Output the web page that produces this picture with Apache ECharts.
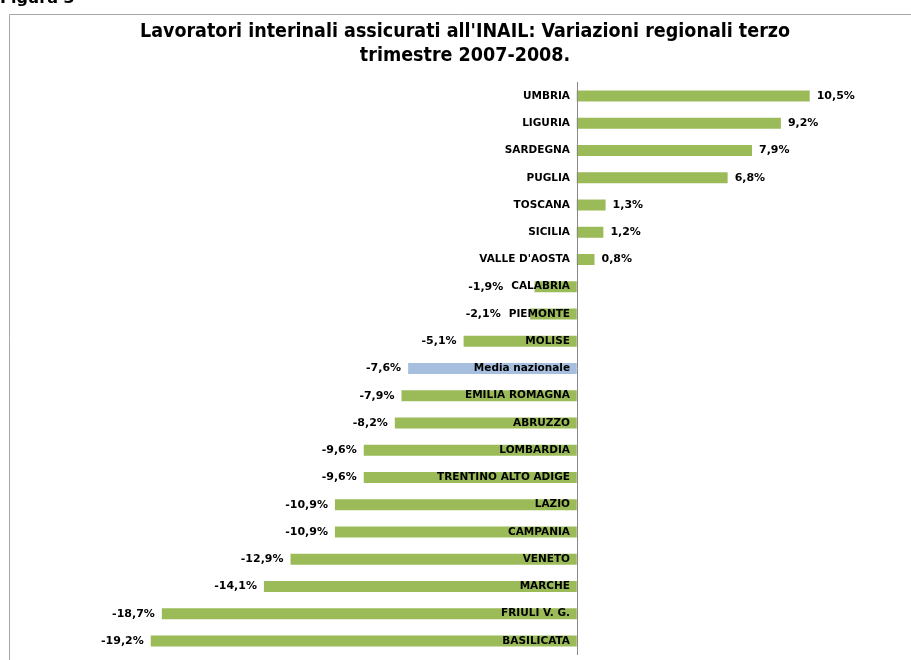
<!DOCTYPE html>
<html><head><meta charset="utf-8">
<script src="https://cdn.jsdelivr.net/npm/echarts@6/dist/echarts.min.js"></script>
<style>html,body{margin:0;padding:0;background:#fff}#c{width:911px;height:660px}</style>
</head><body><div id="c"></div>
<script>
var categories = ["UMBRIA","LIGURIA","SARDEGNA","PUGLIA","TOSCANA","SICILIA","VALLE D'AOSTA","CALABRIA","PIEMONTE","MOLISE","Media nazionale","EMILIA ROMAGNA","ABRUZZO","LOMBARDIA","TRENTINO ALTO ADIGE","LAZIO","CAMPANIA","VENETO","MARCHE","FRIULI V. G.","BASILICATA"];
var values = [10.5,9.2,7.9,6.8,1.3,1.2,0.8,-1.9,-2.1,-5.1,-7.6,-7.9,-8.2,-9.6,-9.6,-10.9,-10.9,-12.9,-14.1,-18.7,-19.2];
var highlight = "Media nazionale";

var chart = echarts.init(document.getElementById('c'));
var font = "DejaVu Sans";
var catFont = 'bold 10.5px "DejaVu Sans"';
var labelMargin = -437;
var gridLeft = 133;

function buildData(offsets){
  return values.map(function(v,i){return {value:v,itemStyle:{color:categories[i]===highlight?'#A7BFDE':'#9BBB59'},
    label:{position:v>=0?'right':'left',offset:[offsets?offsets[i]:0,0]}};});
}

chart.setOption({
  animation:false,
  title:{text:"Lavoratori interinali assicurati all'INAIL: Variazioni regionali terzo\ntrimestre 2007-2008.",left:460,textAlign:'center',top:15,
    textStyle:{fontFamily:"DejaVu Sans Condensed",fontWeight:'bold',fontSize:19.5,color:'#000',lineHeight:24}},
  graphic:[
    {type:'line',shape:{x1:9.5,y1:14.5,x2:911,y2:14.5},style:{stroke:'#a6a6a6',lineWidth:1}},
    {type:'line',shape:{x1:9.5,y1:14.5,x2:9.5,y2:660},style:{stroke:'#a6a6a6',lineWidth:1}},
    {type:'text',left:0,top:-9,style:{text:'Figura 3',font:'bold 16px "DejaVu Sans"',fill:'#000'}}
  ],
  grid:{left:gridLeft,right:68,top:82.4,bottom:5.4,containLabel:false},
  xAxis:{type:'value',min:-20,max:12,show:false},
  yAxis:{type:'category',data:categories,inverse:true,z:10,
    axisLine:{onZero:true,lineStyle:{color:'#888',width:1}},axisTick:{show:false},
    axisLabel:{margin:labelMargin,align:'right',fontFamily:font,fontWeight:'bold',fontSize:10.5,color:'#000'}},
  series:[{type:'bar',barWidth:11,
    data:buildData(null),
    label:{show:true,distance:7,fontFamily:font,fontWeight:'bold',fontSize:11,color:'#000',
      formatter:function(p){return String(p.value).replace('.',',')+'%';}}
  }]
});

// keep negative-value labels clear of the category text (as the original does)
var ctx = document.createElement('canvas').getContext('2d');
ctx.font = catFont;
var labelRight = gridLeft - labelMargin;
var offsets = values.map(function(v,i){
  if (v >= 0) return 0;
  var barStart = chart.convertToPixel({xAxisIndex:0}, v);
  var catStart = labelRight - ctx.measureText(categories[i]).width - 1;
  return catStart < barStart ? catStart - barStart : 0;
});
chart.setOption({series:[{data:buildData(offsets)}]});
</script></body></html>
